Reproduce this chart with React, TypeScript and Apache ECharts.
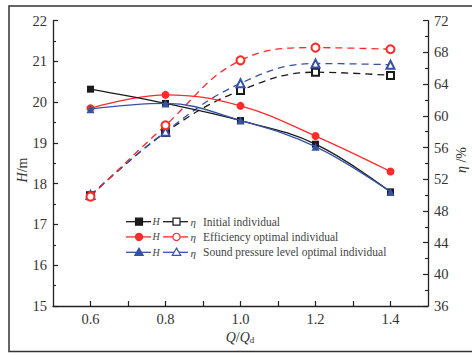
import React, { useEffect, useRef } from "react";
import * as echarts from "echarts";

const flowRatio = [0.6, 0.8, 1.0, 1.2, 1.4];
const headInitial = [20.32, 19.97, 19.55, 18.97, 17.8];
const headEfficiency = [19.85, 20.18, 19.91, 19.17, 18.3];
const headSound = [19.83, 19.97, 19.55, 18.91, 17.8];
const effInitial = [49.9, 57.9, 63.2, 65.5, 65.1];
const effEfficiency = [49.8, 58.8, 67.0, 68.6, 68.4];
const effSound = [50.0, 58.0, 64.1, 66.6, 66.45];
const legendNames = [
  "Initial individual",
  "Efficiency optimal individual",
  "Sound pressure level optimal individual",
];

const BLACK = "#1a1a1a";
const RED = "#ff2a2a";
const BLUE = "#3552a6";
const FONT = "Liberation Serif";

function pts(ys: number[]) {
  return flowRatio.map((q, i) => [q, ys[i]]);
}

function marker(kind: string, cx: number, cy: number, color: string, filled: boolean) {
  const style = {
    fill: filled ? color : "#fff",
    stroke: color,
    lineWidth: 1.2,
  };
  if (kind === "rect")
    return { type: "rect", shape: { x: cx - 3.5, y: cy - 3.5, width: 7, height: 7 }, style, z: 20 };
  if (kind === "circle")
    return { type: "circle", shape: { cx, cy, r: 3.6 }, style, z: 20 };
  return {
    type: "polygon",
    shape: { points: [[cx, cy - 4.2], [cx + 4.2, cy + 3], [cx - 4.2, cy + 3]] },
    style,
    z: 20,
  };
}

export default function App() {
  const ref = useRef<HTMLDivElement>(null);
  useEffect(() => {
    document.body.style.margin = "0";
    const chart = echarts.init(ref.current!, null, { renderer: "svg" });
    const colors = [BLACK, RED, BLUE];
    const kinds = ["rect", "circle", "triangle"];
    const rowsY = [221.7, 236.9, 252.3];
    const legend: any[] = [];
    rowsY.forEach((y, i) => {
      const c = colors[i];
      legend.push({ type: "line", shape: { x1: 126, y1: y, x2: 151, y2: y }, style: { stroke: c, lineWidth: 1.3 }, z: 19 });
      legend.push(marker(kinds[i], 139, y, c, true));
      legend.push({ type: "text", x: 152.5, y, style: { text: "H", font: `italic 10px ${FONT}`, fill: "#444", verticalAlign: "middle" }, z: 20 });
      legend.push({ type: "line", shape: { x1: 163, y1: y, x2: 188, y2: y }, style: { stroke: c, lineWidth: 1.3 }, z: 19 });
      legend.push(marker(kinds[i], 176.5, y, c, false));
      legend.push({ type: "text", x: 190.5, y: y + 0.5, style: { text: "η", font: `italic 11px ${FONT}`, fill: "#444", verticalAlign: "middle" }, z: 20 });
      legend.push({ type: "text", x: 203, y, style: { text: legendNames[i], font: `11.5px ${FONT}`, fill: "#444", verticalAlign: "middle" }, z: 20 });
    });

    const axisLabel = { fontFamily: FONT, fontSize: 14.5, color: "#333" };
    const axisLine = { show: true, lineStyle: { color: "#222", width: 1.3 } };

    const headSeries = (name: string, ys: number[], color: string, symbol: string, z: number) => ({
      type: "line",
      name,
      yAxisIndex: 0,
      data: pts(ys),
      smooth: 0.4,
      symbol,
      symbolSize: symbol === "rect" ? 7 : 8,
      lineStyle: { color, width: 1.3 },
      itemStyle: { color },
      z,
    });
    const effSeries = (name: string, ys: number[], color: string, symbol: string, z: number) => ({
      type: "line",
      name,
      yAxisIndex: 1,
      data: pts(ys),
      smooth: 0.4,
      symbol,
      symbolSize: symbol === "emptyRect" ? 7 : 8,
      lineStyle: { color, width: 1.3, type: [7, 5] },
      itemStyle: { color, borderColor: color, borderWidth: 1.2 },
      z,
    });

    chart.setOption({
      animation: false,
      backgroundColor: "#fff",
      grid: { left: 53, right: 44, top: 20.7, bottom: 48, containLabel: false },
      xAxis: {
        type: "value",
        min: 0.5,
        max: 1.5,
        interval: 0.1,
        axisLine,
        axisTick: { show: true, inside: true, length: 5, lineStyle: { color: "#222", width: 1.2 } },
        axisLabel: {
          ...axisLabel,
          margin: 5,
          showMinLabel: false,
          showMaxLabel: false,
          formatter: (v: number) => {
            const k = Math.round(v * 10);
            return k % 2 === 0 && k >= 6 && k <= 14 ? (k / 10).toFixed(1) : "";
          },
        },
        splitLine: { show: false },
      },
      yAxis: [
        {
          type: "value",
          min: 15,
          max: 22,
          interval: 1,
          position: "left",
          axisLine,
          axisTick: { show: true, inside: true, length: 5, lineStyle: { color: "#222", width: 1.2 } },
          minorTick: { show: true, splitNumber: 2, length: 3, lineStyle: { color: "#222", width: 1.1 } },
          axisLabel: { ...axisLabel, margin: 6 },
          splitLine: { show: false },
        },
        {
          type: "value",
          min: 36,
          max: 72,
          interval: 4,
          position: "right",
          axisLine,
          axisTick: { show: true, inside: true, length: 5, lineStyle: { color: "#222", width: 1.2 } },
          minorTick: { show: true, splitNumber: 2, length: 3, lineStyle: { color: "#222", width: 1.1 } },
          axisLabel: { ...axisLabel, margin: 6 },
          splitLine: { show: false },
        },
      ],
      series: [
        effSeries("η Initial", effInitial, BLACK, "emptyRect", 3),
        effSeries("η Sound", effSound, BLUE, "emptyTriangle", 4),
        effSeries("η Efficiency", effEfficiency, RED, "emptyCircle", 5),
        headSeries("H Efficiency", headEfficiency, RED, "circle", 6),
        headSeries("H Initial", headInitial, BLACK, "rect", 7),
        headSeries("H Sound", headSound, BLUE, "triangle", 8),
      ],
      graphic: [
        {
          type: "rect",
          shape: { x: 9, y: 6, width: 470, height: 345.5 },
          style: { fill: "none", stroke: "#333", lineWidth: 1.5 },
          silent: true,
        },
        {
          type: "text",
          x: 22,
          y: 170,
          rotation: Math.PI / 2,
          style: {
            text: "{i|H}/m",
            font: `14px ${FONT}`,
            fill: "#333",
            align: "center",
            verticalAlign: "middle",
            rich: { i: { fontStyle: "italic", fontFamily: FONT, fontSize: 14, fill: "#333" } },
          },
        },
        {
          type: "text",
          x: 461,
          y: 160,
          rotation: Math.PI / 2,
          style: {
            text: "{i|η} /%",
            font: `14px ${FONT}`,
            fill: "#333",
            align: "center",
            verticalAlign: "middle",
            rich: { i: { fontStyle: "italic", fontFamily: FONT, fontSize: 14, fill: "#333" } },
          },
        },
        {
          type: "text",
          x: 240,
          y: 337,
          style: {
            text: "{i|Q}/{i|Q}{s|d}",
            font: `14px ${FONT}`,
            fill: "#333",
            align: "center",
            verticalAlign: "middle",
            rich: {
              i: { fontStyle: "italic", fontFamily: FONT, fontSize: 14, fill: "#333" },
              s: { fontFamily: FONT, fontSize: 9, fill: "#333", verticalAlign: "bottom", padding: [6, 0, 0, 0] },
            },
          },
        },
        ...legend,
      ],
    });
    return () => chart.dispose();
  }, []);
  return <div ref={ref} style={{ width: 472, height: 354 }} />;
}
